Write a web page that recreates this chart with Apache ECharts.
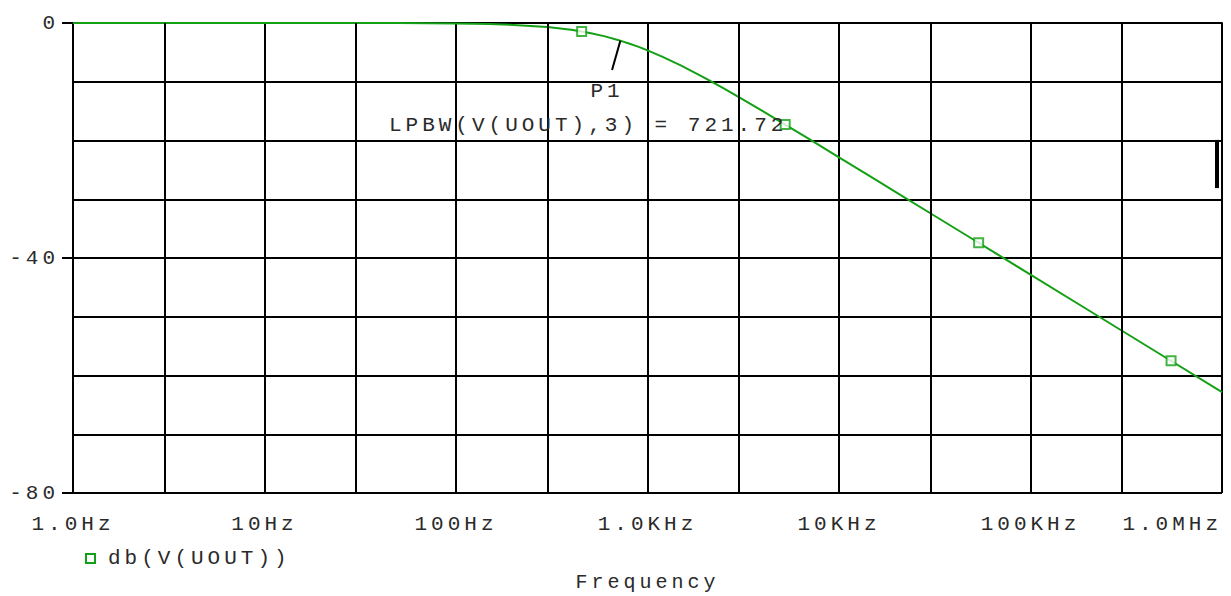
<!DOCTYPE html>
<html><head><meta charset="utf-8">
<script src="https://cdn.jsdelivr.net/npm/echarts@6/dist/echarts.min.js"></script>
<style>
html,body{margin:0;padding:0;background:#fff}
#c{width:1231px;height:596px}
#c text{letter-spacing:4px}
</style></head><body><div id="c"></div>
<script>
// ---- data ----
const freq = [1, 10, 50, 100, 150, 200, 300, 400, 500, 600, 700, 800, 900, 1000, 1200, 1500, 2000, 2500, 3000, 4000, 5000, 7000, 10000, 15000, 20000, 30000, 50000, 70000, 100000, 200000, 500000, 1000000];
const gainDb = [0.00, 0.00, -0.02, -0.08, -0.18, -0.32, -0.69, -1.16, -1.70, -2.28, -2.88, -3.48, -4.07, -4.65, -5.76, -7.26, -9.38, -11.14, -12.62, -15.01, -16.90, -19.78, -22.86, -26.36, -28.86, -32.38, -36.81, -39.74, -42.83, -48.85, -56.81, -62.83];
const markerFreq = [453, 5236, 53600, 542000];
const markerDb = [-1.44, -17.29, -37.42, -57.51];
const minorGridFreq = [3, 30, 300, 3000, 30000, 300000];
const xTickValues = [1, 10, 100, 1000, 10000, 100000, 1000000];
const xTickLabels = ['1.0Hz', '10Hz', '100Hz', '1.0KHz', '10KHz', '100KHz', '1.0MHz'];
const yTickValues = [0, -40, -80];
const yTickLabels = ['0', '-40', '-80'];
const seriesName = 'db(V(UOUT))';
const xAxisTitle = 'Frequency';
const cursorLabel = 'P1';
const measureLabel = 'LPBW(V(UOUT),3) = 721.72';
const cutoffFreq = 721.72;
const cutoffDb = -3.0;
const pointerEnd = [653, -8.0];
const cursorLabelAt = [615, -11.6];
const measureLabelAt = [490, -17.4];
const cursorBar = [[942000, -19.9], [942000, -28.1]];

// ---- styling ----
const GREEN = '#14a014';
const FONT = 'Liberation Mono';
const TXT = '#2a2a2a';

const chart = echarts.init(document.getElementById('c'), null, {renderer: 'svg'});
const lineData = freq.map((f, i) => [f, gainDb[i]]);
const markerData = markerFreq.map((f, i) => [f, markerDb[i]]);

const tickText = (v, vals, labs) => {
  for (let i = 0; i < vals.length; i++) {
    if (Math.abs(v - vals[i]) <= Math.abs(vals[i]) * 1e-6 + 1e-9) return labs[i];
  }
  return '';
};

chart.setOption({
  animation: false,
  backgroundColor: '#fff',
  grid: {left: 73, right: 9, top: 23, bottom: 103, containLabel: false, outerBoundsMode: 'none'},
  legend: {
    left: 80, top: 543,
    itemWidth: 9, itemHeight: 9,
    textStyle: {fontFamily: FONT, fontSize: 21, color: TXT, padding: [0, 0, 0, 8]},
    data: [{name: seriesName, icon: 'rect', itemStyle: {color: '#fff', borderColor: GREEN, borderWidth: 2}}]
  },
  xAxis: {
    type: 'log', logBase: 10, min: 1, max: 1000000,
    name: xAxisTitle, nameLocation: 'middle', nameGap: 79,
    nameTextStyle: {fontFamily: FONT, fontSize: 20, color: TXT, lineHeight: 20},
    axisLine: {show: true, lineStyle: {color: '#000', width: 2}},
    axisTick: {show: true, length: 10, lineStyle: {color: '#000', width: 2}},
    splitLine: {show: true, lineStyle: {color: '#000', width: 2}},
    axisLabel: {
      fontFamily: FONT, fontSize: 21, color: TXT, margin: 21,
      alignMaxLabel: 'right',
      formatter: v => tickText(v, xTickValues, xTickLabels)
    }
  },
  yAxis: [{
    type: 'value', min: -80, max: 0, interval: 10, position: 'left',
    axisLine: {show: true, lineStyle: {color: '#000', width: 2}},
    axisTick: {show: false},
    axisLabel: {show: false},
    splitLine: {show: true, lineStyle: {color: '#000', width: 2}}
  }, {
    type: 'value', min: -80, max: 0, interval: 40, position: 'left', offset: 0,
    axisLine: {show: false},
    axisTick: {show: true, length: 11, lineStyle: {color: '#000', width: 2}},
    splitLine: {show: false},
    axisLabel: {
      fontFamily: FONT, fontSize: 21, color: TXT, margin: 14,
      formatter: v => tickText(v, yTickValues, yTickLabels)
    }
  }],
  series: [{
    type: 'line', data: [], silent: true, z: 1,
    markLine: {
      silent: true, symbol: ['none', 'none'], label: {show: false},
      lineStyle: {color: '#000', width: 2, type: 'solid'},
      data: minorGridFreq.map(f => ({xAxis: f}))
    }
  }, {
    name: seriesName, type: 'line', data: lineData, showSymbol: false, symbol: 'none',
    smooth: false, z: 3,
    lineStyle: {color: GREEN, width: 2}, itemStyle: {color: GREEN},
    markLine: {
      silent: true, symbol: ['none', 'none'], label: {show: false},
      data: [
        [{coord: [cutoffFreq, cutoffDb], lineStyle: {color: '#000', width: 2, type: 'solid'}}, {coord: pointerEnd}],
        [{coord: cursorBar[0], lineStyle: {color: '#000', width: 4, type: 'solid'}}, {coord: cursorBar[1]}]
      ]
    },
    markPoint: {
      silent: true, symbol: 'rect', symbolSize: 1,
      itemStyle: {color: 'rgba(0,0,0,0)'},
      label: {show: true, position: 'inside', fontFamily: FONT, fontSize: 21, color: TXT},
      data: [
        {coord: cursorLabelAt, label: {formatter: cursorLabel}},
        {coord: measureLabelAt, label: {formatter: measureLabel}}
      ]
    }
  }, {
    name: seriesName, type: 'scatter', data: markerData, symbol: 'rect', symbolSize: 9, z: 4,
    itemStyle: {color: '#fff', borderColor: GREEN, borderWidth: 2}
  }]
});
</script></body></html>
